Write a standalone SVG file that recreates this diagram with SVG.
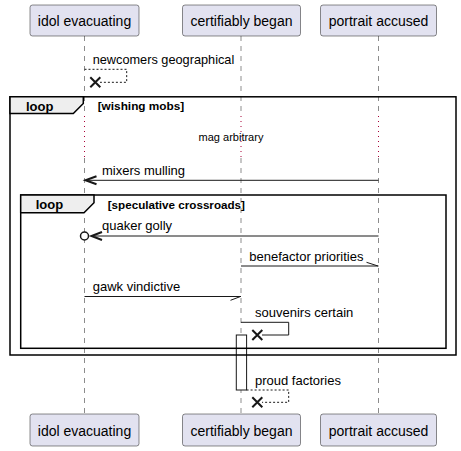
<svg xmlns="http://www.w3.org/2000/svg" width="461" height="451" viewBox="0 0 461 451">
<style>
text{font-family:"Liberation Sans",Arial,sans-serif;fill:#000}
.pbox{fill:#E2E2F0;stroke:#181818;stroke-width:0.5}
.pname{font-size:14px;text-anchor:middle}
.life{stroke:#181818;stroke-width:0.5;stroke-dasharray:5,5;fill:none}
.delay{stroke:#A80036;stroke-width:1;stroke-dasharray:1,4;fill:none}
.msg{font-size:13px}
.line{stroke:#181818;stroke-width:1;fill:none}
.dash{stroke:#181818;stroke-width:1;stroke-dasharray:2,2;fill:none}
.head{stroke:#181818;stroke-width:2;fill:none}
.x{stroke:#181818;stroke-width:2;fill:none}
.frame{stroke:#000;stroke-width:1.5;fill:none}
.tab{stroke:#000;stroke-width:1.5;fill:#EEEEEE}
.ftitle{font-size:13px;font-weight:bold}
.fcond{font-size:11.6px;font-weight:bold}
</style>
<g id="lifelines">
<line class="life" x1="84.5" y1="36" x2="84.5" y2="116"/>
<line class="life" x1="84.5" y1="158" x2="84.5" y2="414"/>
<line class="life" x1="241" y1="36" x2="241" y2="116"/>
<line class="life" x1="241" y1="158" x2="241" y2="414"/>
<line class="life" x1="378.5" y1="36" x2="378.5" y2="116"/>
<line class="life" x1="378.5" y1="158" x2="378.5" y2="414"/>
<line class="delay" x1="84.5" y1="116" x2="84.5" y2="158"/>
<line class="delay" x1="241" y1="116" x2="241" y2="158"/>
<line class="delay" x1="378.5" y1="116" x2="378.5" y2="158"/>
<text x="231" y="140.5" style="font-size:11px;text-anchor:middle">mag arbitrary</text>
</g>
<g id="idol-evacuating">
<rect class="pbox" x="30" y="5" width="109" height="31" rx="2.5"/>
<text class="pname" x="84.5" y="26">idol evacuating</text>
<rect class="pbox" x="30" y="414" width="109" height="32" rx="2.5"/>
<text class="pname" x="84.5" y="436">idol evacuating</text>
</g>
<g id="certifiably-began">
<rect class="pbox" x="182.5" y="5" width="118" height="31" rx="2.5"/>
<text class="pname" x="241.5" y="26">certifiably began</text>
<rect class="pbox" x="182.5" y="414" width="118" height="32" rx="2.5"/>
<text class="pname" x="241.5" y="436">certifiably began</text>
</g>
<g id="portrait-accused">
<rect class="pbox" x="320.5" y="5" width="116" height="31" rx="2.5"/>
<text class="pname" x="378.5" y="26">portrait accused</text>
<rect class="pbox" x="320.5" y="414" width="116" height="32" rx="2.5"/>
<text class="pname" x="378.5" y="436">portrait accused</text>
</g>
<g id="activation">
<rect x="236.3" y="335" width="10.3" height="55" fill="#FFFFFF" stroke="#181818" stroke-width="1"/>
</g>
<g id="connectors">
<polyline class="dash" points="84.5,69.3 126.7,69.3 126.7,82.3 100,82.3"/>
<path class="x" d="M90.3,77.3 L100.3,87.3 M90.3,87.3 L100.3,77.3"/>
<text class="msg" x="92.7" y="64" textLength="141.6" lengthAdjust="spacingAndGlyphs">newcomers geographical</text>

<line class="line" x1="378.5" y1="180.3" x2="86" y2="180.3"/>
<path class="head" d="M96.5,176.3 L85.5,180.3 L96.5,184.3"/>
<text class="msg" x="102" y="174.5">mixers mulling</text>

<line class="line" x1="378.5" y1="236" x2="92" y2="236"/>
<path class="head" d="M102,232 L91.5,236 L102,240"/>
<circle cx="84.5" cy="236" r="4" fill="#FFFFFF" stroke="#181818" stroke-width="1.5"/>
<text class="msg" x="102" y="230">quaker golly</text>

<line class="line" x1="241" y1="266" x2="378.5" y2="266"/>
<line class="line" x1="366.5" y1="262.3" x2="378" y2="266"/>
<text class="msg" x="249.3" y="261">benefactor priorities</text>

<line class="line" x1="84.5" y1="296.5" x2="241" y2="296.5"/>
<line class="line" x1="230.5" y1="300.3" x2="240.5" y2="296.5"/>
<text class="msg" x="92.7" y="291">gawk vindictive</text>

<polyline class="line" points="241,322.3 288.7,322.3 288.7,335 262,335"/>
<path class="x" d="M252.3,330 L262.3,340 M252.3,340 L262.3,330"/>
<text class="msg" x="255" y="317">souvenirs certain</text>

<polyline class="dash" points="246.6,390 288.7,390 288.7,402.3 262,402.3"/>
<path class="x" d="M252.3,397.3 L262.3,407.3 M252.3,407.3 L262.3,397.3"/>
<text class="msg" x="255" y="384.5">proud factories</text>
</g>
<g id="loop-wishing-mobs">
<rect class="frame" x="10" y="96.8" width="446" height="258.2"/>
<polygon class="tab" points="10,96.8 83.3,96.8 83.3,103.5 73.3,113.5 10,113.5"/>
<text class="ftitle" x="26" y="110.5">loop</text>
<text class="fcond" x="97.7" y="110" textLength="86.6" lengthAdjust="spacingAndGlyphs">[wishing mobs]</text>
</g>
<g id="loop-speculative-crossroads">
<rect class="frame" x="20.7" y="195" width="425.3" height="153.3"/>
<polygon class="tab" points="20.7,195 94,195 94,202.7 84,212.7 20.7,212.7"/>
<text class="ftitle" x="35.7" y="209">loop</text>
<text class="fcond" x="107.7" y="208.5" textLength="137.3" lengthAdjust="spacingAndGlyphs">[speculative crossroads]</text>
</g>
</svg>
